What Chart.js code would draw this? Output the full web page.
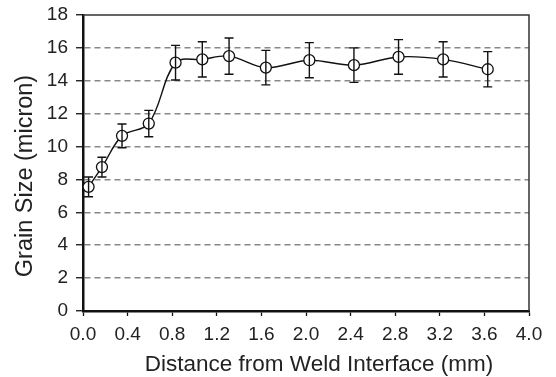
<!DOCTYPE html>
<html>
<head>
<meta charset="utf-8">
<script src="https://cdn.jsdelivr.net/npm/chart.js@4/dist/chart.umd.min.js"></script>
<style>
  html, body { margin: 0; padding: 0; background: #fff; }
  #wrap { width: 556px; height: 377px; }
</style>
</head>
<body>
<div id="wrap"><canvas id="grain_chart"></canvas></div>
<script>
// distance from weld interface (mm)
var distance = [0.05, 0.17, 0.35, 0.59, 0.83, 1.07, 1.31, 1.64, 2.03, 2.43, 2.83, 3.23, 3.63];
// mean grain size (micron)
var grainSize = [7.55, 8.75, 10.65, 11.4, 15.1, 15.3, 15.5, 14.8, 15.25, 14.95, 15.45, 15.3, 14.7];
// +/- error (micron)
var grainErr = [0.6, 0.6, 0.72, 0.8, 1.05, 1.07, 1.1, 1.05, 1.07, 1.05, 1.05, 1.07, 1.07];

var xTicks = [0, 0.4, 0.8, 1.2, 1.6, 2.0, 2.4, 2.8, 3.2, 3.6, 4.0];
var yTicks = [0, 2, 4, 6, 8, 10, 12, 14, 16, 18];

var xTitle = 'Distance from Weld Interface (mm)';
var yTitle = 'Grain Size (micron)';

var font = "'Liberation Sans', Arial, Helvetica, sans-serif";

var errorBars = {
	id: 'errorBars',
	afterDatasetsDraw: function (chart) {
		var ctx = chart.ctx;
		var xs = chart.scales.x, ys = chart.scales.y;
		ctx.save();
		ctx.strokeStyle = '#111';
		ctx.lineWidth = 1.4;
		for (var i = 0; i < distance.length; i++) {
			var px = xs.getPixelForValue(distance[i]);
			var top = ys.getPixelForValue(grainSize[i] + grainErr[i]);
			var bot = ys.getPixelForValue(grainSize[i] - grainErr[i]);
			ctx.beginPath();
			ctx.moveTo(px, top); ctx.lineTo(px, bot);
			ctx.moveTo(px - 4.5, top); ctx.lineTo(px + 4.5, top);
			ctx.moveTo(px - 4.5, bot); ctx.lineTo(px + 4.5, bot);
			ctx.stroke();
		}
		// top and right frame
		var a = chart.chartArea;
		ctx.strokeStyle = '#333';
		ctx.lineWidth = 1.5;
		ctx.beginPath();
		ctx.moveTo(a.left, a.top); ctx.lineTo(a.right, a.top); ctx.lineTo(a.right, a.bottom);
		ctx.stroke();

		// axis titles
		ctx.fillStyle = '#222';
		ctx.textAlign = 'center';
		ctx.textBaseline = 'middle';
		ctx.font = '22.5px ' + font;
		ctx.fillText(xTitle, (a.left + a.right) / 2 + 13, 365);
		ctx.translate(25.5, (a.top + a.bottom) / 2 + 13);
		ctx.rotate(-Math.PI / 2);
		ctx.font = '23.5px ' + font;
		ctx.fillText(yTitle, 0, 0);
		ctx.restore();
	}
};

var points = [];
for (var i = 0; i < distance.length; i++) {
	points.push({ x: distance[i], y: grainSize[i] });
}

new Chart(document.getElementById('grain_chart').getContext('2d'), {
	type: 'line',
	data: {
		datasets: [{
			data: points,
			borderColor: '#111',
			borderWidth: 1.4,
			tension: 0.35,
			fill: false,
			pointRadius: 5.5,
			pointBorderWidth: 1.3,
			pointBorderColor: '#111',
			pointBackgroundColor: '#fff'
		}]
	},
	options: {
		responsive: true,
		maintainAspectRatio: false,
		animation: false,
		layout: { padding: { top: 15, right: 27, left: 0, bottom: 0 } },
		plugins: { legend: { display: false }, tooltip: { enabled: false } },
		scales: {
			x: {
				type: 'linear',
				min: 0,
				max: 4,
				afterFit: function (s) { s.height = 66; s.paddingLeft = 0; s.paddingRight = 0; },
				afterBuildTicks: function (s) { s.ticks = xTicks.map(function (v) { return { value: v }; }); },
				ticks: {
					color: '#222',
					font: { family: font, size: 19 },
					padding: 7,
					maxRotation: 0,
					callback: function (v) { return v.toFixed(1); }
				},
				grid: { drawOnChartArea: false, drawTicks: true, tickLength: 5, tickColor: '#111', tickWidth: 1.3 },
				border: { color: '#111', width: 2.5 }
			},
			y: {
				min: 0,
				max: 18,
				afterFit: function (s) { s.width = 83; s.paddingTop = 0; s.paddingBottom = 0; },
				afterBuildTicks: function (s) { s.ticks = yTicks.map(function (v) { return { value: v }; }); },
				ticks: {
					color: '#222',
					font: { family: font, size: 19 },
					padding: 8
				},
				grid: {
					color: function (c) { return (c.tick && (c.tick.value === 0 || c.tick.value === 18)) ? 'rgba(0,0,0,0)' : '#888'; },
					lineWidth: 1.5,
					tickLength: 7,
					tickColor: '#111',
					tickWidth: 1.3
				},
				border: { color: '#111', width: 2.5, dash: [6, 4] }
			}
		}
	},
	plugins: [errorBars]
});
</script>
</body>
</html>
